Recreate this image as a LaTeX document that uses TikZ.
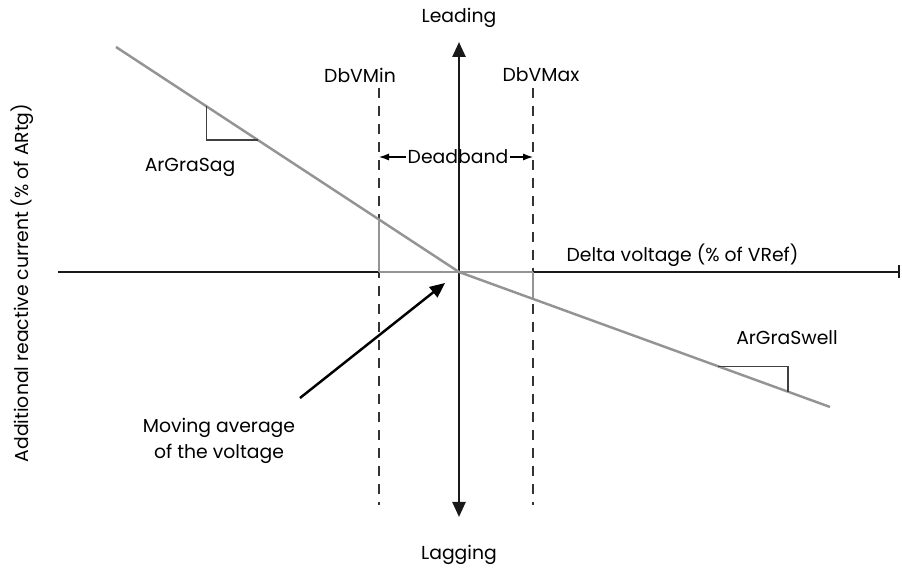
\documentclass[tikz,border=0pt]{standalone}
\usepackage{fontspec}
\setmainfont{Poppins}
\usepackage{tikz}
\usetikzlibrary{positioning}
\usetikzlibrary{arrows.meta}
\colorlet{curvec}{black!42}
\colorlet{slopec}{black!75}
\tikzset{
  lbl/.style={font=\fontsize{10.7}{15}\selectfont, inner sep=1pt},
  axis/.style={black!90, line width=1.4pt},
  dbline/.style={black!80, line width=0.6pt, dash pattern=on 0.2cm off 0.16cm},
  curve/.style={curvec, line width=1.4pt},
}

\begin{document}
\begin{tikzpicture}[scale=1.0]
\useasboundingbox (0,0) rectangle (18.04,11.5);

\coordinate (o) at (9.18,6.06);
\coordinate (xl) at (1.16,6.06);
\coordinate (xr) at (18.0,6.06);
\coordinate (yt) at (9.18,10.66);
\coordinate (yb) at (9.18,1.16);

% deadband limits
\coordinate (mint) at (7.58,9.74);
\coordinate (minb) at (7.58,1.40);
\coordinate (maxt) at (10.66,9.74);
\coordinate (maxb) at (10.66,1.40);
\draw[dbline] (mint) -- (minb);
\draw[dbline] (maxt) -- (maxb);

% axes
\draw[axis, -{Bar[width=0.26cm]}] (xl) -- (xr);
\draw[axis, {Triangle[length=0.3cm,width=0.26cm]}-{Triangle[length=0.3cm,width=0.26cm]}] (yb) -- (yt);

% characteristic
\coordinate (sagend) at (2.32,10.56);
\coordinate (swellend) at (16.6,3.36);
\draw[curve] (7.58,6.06) -- (o);
\draw[curve] (o) -- (10.66,6.06);
\draw[curve] (7.58,6.06) -- (7.58,7.11);
\draw[curve] (10.66,6.06) -- (10.66,5.52);
\draw[curve] (sagend) -- (o) -- (swellend);

% slope triangles
\draw[slopec, line width=0.6pt] (4.13,9.37) -- (4.13,8.70) -- (5.16,8.70);
\draw[slopec, line width=0.6pt] (14.36,4.17) -- (15.76,4.17) -- (15.76,3.66);

\node[lbl] (lead) at (9.18,11.14) {Leading};
\node[lbl] (lag) at (9.18,0.40) {Lagging};
\node[lbl] (dbmin) at (7.2,10.0) {DbVMin};
\node[lbl] (dbmax) at (10.82,10.0) {DbVMax};
\node[lbl] (dead) at (9.16,8.36) {Deadband};
\node[lbl] (sag) at (3.8,8.16) {ArGraSag};
\node[lbl] (swell) at (15.74,4.74) {ArGraSwell};
\node[lbl] (dv) at (13.65,6.4) {Delta voltage (\% of VRef)};
\node[lbl, rotate=90] (ai) at (0.44,5.84) {Additional reactive current (\% of ARtg)};
\node[lbl, align=center] (mov) at (4.38,2.68) {Moving average\\of the voltage};

\draw[line width=0.6pt, -{Latex[length=0.2cm,width=0.14cm]}] (dead.west) -- (7.58,8.36);
\draw[line width=0.6pt, -{Latex[length=0.2cm,width=0.14cm]}] (dead.east) -- (10.66,8.36);

\coordinate (movtail) at (6.0,3.54);
\coordinate (movtip) at (8.9,5.84);
\draw[line width=1.4pt, -{Triangle[length=0.3cm,width=0.26cm]}] (movtail) -- (movtip);
\end{tikzpicture}
\end{document}
